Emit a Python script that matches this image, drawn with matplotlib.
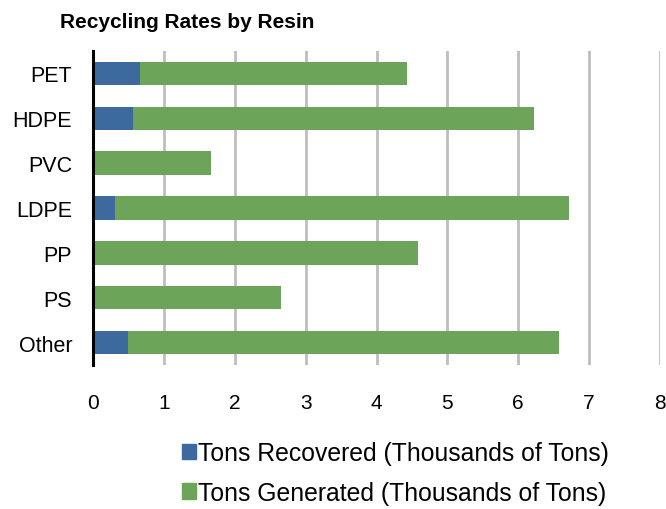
import matplotlib
matplotlib.use("Agg")
import matplotlib.pyplot as plt
from matplotlib.patches import Patch

plt.rcParams['font.family'] = ['Liberation Sans', 'DejaVu Sans']

categories = ["PET", "HDPE", "PVC", "LDPE", "PP", "PS", "Other"]
recovered = [0.67, 0.56, 0.0, 0.31, 0.0, 0.0, 0.49]
generated = [3.76, 5.66, 1.67, 6.40, 4.58, 2.65, 6.08]
xticks = [0, 1, 2, 3, 4, 5, 6, 7, 8]

blue = '#3C6A9E'
green = '#6CA45A'

fig = plt.figure(figsize=(6.66, 5.10), dpi=100)
ax = fig.add_axes([93/666, 1-366/510, (660-93)/666, (366-52)/510])

y = list(range(len(categories)))
ax.barh(y, recovered, height=0.52, color=blue, zorder=3)
ax.barh(y, generated, left=recovered, height=0.52, color=green, zorder=3)

ax.set_xlim(0, 8)
ax.set_ylim(6.5, -0.5)
ax.set_xticks(xticks)
ax.set_xticklabels([str(t) for t in xticks], fontsize=15)
ax.set_yticks(y)
ax.set_yticklabels(categories, fontsize=15.5)
ax.tick_params(axis='both', length=0)
ax.tick_params(axis='x', pad=20)
ax.tick_params(axis='y', pad=15)

ax.grid(axis='x', color='#BEBEBE', linewidth=2, zorder=0)
ax.set_axisbelow(True)
for s in ['top', 'right', 'bottom']:
    ax.spines[s].set_visible(False)
ax.spines['left'].set_linewidth(2.2)
ax.spines['left'].set_color('black')
ax.spines['left'].set_zorder(4)

fig.text(60/666, 1-23/510, "Recycling Rates by Resin", fontsize=15, fontweight='bold',
         ha='left', va='center')

handles = [Patch(color=blue), Patch(color=green)]
labels = ["Tons Recovered (Thousands of Tons)", "Tons Generated (Thousands of Tons)"]
fig.legend(handles, labels, loc='center left', bbox_to_anchor=(182/666, 1-474/510),
           frameon=False, fontsize=17.8, handlelength=0.57, handleheight=0.57,
           handletextpad=0.08, labelspacing=0.62, borderpad=0, borderaxespad=0)

fig.savefig("out.png", dpi=100)
